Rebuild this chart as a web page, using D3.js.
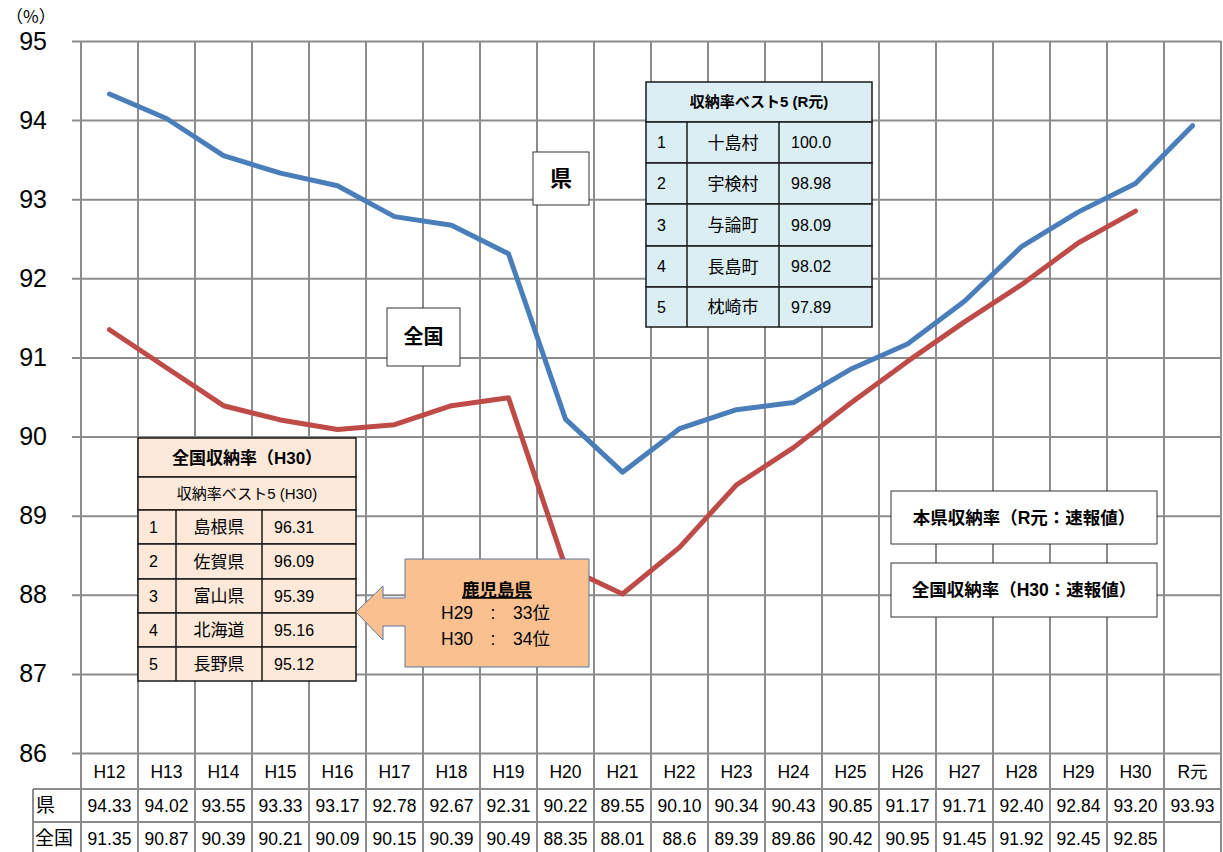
<!DOCTYPE html>
<html>
<head>
<meta charset="utf-8">
<script src="https://cdn.jsdelivr.net/npm/d3@7"></script>
<style>
body { margin: 0; background: #fff; }
svg text { font-family: "Liberation Sans", "Noto Sans CJK JP", sans-serif; fill: #000; }
</style>
</head>
<body>
<div id="chart"></div>
<script>
// 年度
var years = ["H12","H13","H14","H15","H16","H17","H18","H19","H20","H21",
    "H22","H23","H24","H25","H26","H27","H28","H29","H30","R元"];
// 県の収納率
var ken = [94.33,94.02,93.55,93.33,93.17,92.78,92.67,92.31,90.22,89.55,
    90.10,90.34,90.43,90.85,91.17,91.71,92.40,92.84,93.20,93.93];
// 全国の収納率 (R元はまだ無い)
var zenkoku = [91.35,90.87,90.39,90.21,90.09,90.15,90.39,90.49,88.35,88.01,
    88.6,89.39,89.86,90.42,90.95,91.45,91.92,92.45,92.85,null];
var zenkokuLabels = ["91.35","90.87","90.39","90.21","90.09","90.15","90.39","90.49","88.35","88.01",
    "88.6","89.39","89.86","90.42","90.95","91.45","91.92","92.45","92.85",""];
var yTicks = [86,87,88,89,90,91,92,93,94,95];

// 収納率ベスト5 (R元) 県内
var bestTown = ["十島村","宇検村","与論町","長島町","枕崎市"];
var bestTownVal = ["100.0","98.98","98.09","98.02","97.89"];
// 収納率ベスト5 (H30) 全国
var bestPref = ["島根県","佐賀県","富山県","北海道","長野県"];
var bestPrefVal = ["96.31","96.09","95.39","95.16","95.12"];

var dims = { width: 1223, height: 852, left: 81, right: 1221, top: 41, bottom: 753 };
var gridColor = "#8c8c8c";

var svg = d3.select('#chart').append('svg')
    .attr('width', dims.width)
    .attr('height', dims.height);

var x = d3.scaleBand().domain(years).range([dims.left, dims.right]).padding(0);
var y = d3.scaleLinear().domain([86, 95]).range([dims.bottom, dims.top]);
var cx = function(d){ return x(d) + x.bandwidth() / 2; };

// 横グリッド + 目盛ラベル
var yAxis = svg.append('g')
    .attr('transform', 'translate(72,0)')
    .call(d3.axisLeft(y).tickValues(yTicks).tickSize(-(dims.right - 72)).tickPadding(25));
yAxis.select('.domain').remove();
yAxis.selectAll('line').attr('stroke', gridColor).attr('stroke-width', 2);
yAxis.selectAll('text').style('font-size', '25px');

svg.append('text').attr('x', 6).attr('y', 23)
    .style('font-size', '17px')
    .style('font-family', '"Noto Sans CJK JP", sans-serif')
    .text('（%）');

// 縦グリッド (データ表まで)
svg.append('g').selectAll('line')
    .data(d3.range(years.length + 1))
    .enter().append('line')
    .attr('x1', function(i){ return dims.left + i * x.bandwidth(); })
    .attr('x2', function(i){ return dims.left + i * x.bandwidth(); })
    .attr('y1', dims.top)
    .attr('y2', dims.height)
    .attr('stroke', gridColor)
    .attr('stroke-width', 2);

// データ表の罫線
var rowY = [789, 822];
svg.append('g').selectAll('line')
    .data(rowY)
    .enter().append('line')
    .attr('x1', 33).attr('x2', dims.right)
    .attr('y1', function(d){ return d; }).attr('y2', function(d){ return d; })
    .attr('stroke', gridColor).attr('stroke-width', 2);
svg.append('line').attr('x1', 33).attr('x2', 33).attr('y1', 789).attr('y2', dims.height)
    .attr('stroke', gridColor).attr('stroke-width', 2);

// データ表の文字
var tbl = svg.append('g').attr('font-size', 17.5).attr('text-anchor', 'middle');
tbl.selectAll('.hdr').data(years).enter().append('text')
    .attr('x', cx).attr('y', 778).text(function(d){ return d; });
tbl.selectAll('.kv').data(ken).enter().append('text')
    .attr('x', function(d, i){ return cx(years[i]); }).attr('y', 812)
    .text(function(d){ return d.toFixed(2); });
tbl.selectAll('.zv').data(zenkokuLabels).enter().append('text')
    .attr('x', function(d, i){ return cx(years[i]); }).attr('y', 845)
    .text(function(d){ return d; });
svg.append('text').attr('x', 36).attr('y', 812).attr('font-size', 19).text('県');
svg.append('text').attr('x', 35).attr('y', 845).attr('font-size', 19).text('全国');

// 折れ線
var line = d3.line()
    .defined(function(d){ return d.v != null; })
    .x(function(d){ return cx(d.year); })
    .y(function(d){ return y(d.v); });

svg.append('path')
    .datum(years.map(function(yr, i){ return { year: yr, v: zenkoku[i] }; }))
    .attr('d', line)
    .attr('fill', 'none').attr('stroke', '#BE4B48').attr('stroke-width', 5)
    .attr('stroke-linejoin', 'round').attr('stroke-linecap', 'round');

svg.append('path')
    .datum(years.map(function(yr, i){ return { year: yr, v: ken[i] }; }))
    .attr('d', line)
    .attr('fill', 'none').attr('stroke', '#4A7EBB').attr('stroke-width', 5)
    .attr('stroke-linejoin', 'round').attr('stroke-linecap', 'round');

// 文字入りの枠
function labelBox(x0, y0, w, h, txt, size){
    var g = svg.append('g');
    g.append('rect').attr('x', x0).attr('y', y0).attr('width', w).attr('height', h)
        .attr('fill', '#fff').attr('stroke', '#333').attr('stroke-width', 1);
    g.append('text').attr('x', x0 + w / 2).attr('y', y0 + h / 2)
        .attr('dy', '0.36em').attr('text-anchor', 'middle')
        .attr('font-size', size).attr('font-weight', 'bold').text(txt);
}
labelBox(533, 152, 56, 53, '県', 22);
labelBox(387, 308, 73, 58, '全国', 20);
labelBox(891, 491, 266, 53, '本県収納率（R元：速報値）', 17.5);
labelBox(891, 563, 266, 54, '全国収納率（H30：速報値）', 17.5);

// ベスト5の表
function rankTable(x0, cols, rowTops, fill, names, vals, headers){
    var g = svg.append('g');
    var x1 = cols[cols.length - 1];
    for (var i = 0; i < rowTops.length - 1; i++) {
        g.append('rect').attr('x', x0).attr('y', rowTops[i])
            .attr('width', x1 - x0).attr('height', rowTops[i + 1] - rowTops[i])
            .attr('fill', fill).attr('stroke', '#1a1a1a').attr('stroke-width', 1.5);
    }
    var nh = headers.length;
    headers.forEach(function(h, i){
        g.append('text').attr('x', (x0 + x1) / 2)
            .attr('y', (rowTops[i] + rowTops[i + 1]) / 2).attr('dy', '0.36em')
            .attr('text-anchor', 'middle').attr('font-size', h.size)
            .attr('font-weight', h.bold ? 'bold' : 'normal').text(h.text);
    });
    names.forEach(function(n, i){
        var t = rowTops[nh + i], b = rowTops[nh + i + 1];
        g.append('line').attr('x1', cols[0]).attr('x2', cols[0]).attr('y1', t).attr('y2', b)
            .attr('stroke', '#1a1a1a').attr('stroke-width', 1.5);
        g.append('line').attr('x1', cols[1]).attr('x2', cols[1]).attr('y1', t).attr('y2', b)
            .attr('stroke', '#1a1a1a').attr('stroke-width', 1.5);
        var ym = (t + b) / 2;
        g.append('text').attr('x', x0 + 11).attr('y', ym).attr('dy', '0.36em')
            .attr('font-size', 16).text(i + 1);
        g.append('text').attr('x', (cols[0] + cols[1]) / 2).attr('y', ym).attr('dy', '0.36em')
            .attr('text-anchor', 'middle').attr('font-size', 17).text(n);
        g.append('text').attr('x', cols[1] + 12).attr('y', ym).attr('dy', '0.36em')
            .attr('font-size', 16).text(vals[i]);
    });
}
rankTable(646, [687, 779, 872], [82, 122, 163, 204, 246, 287, 327], '#DBEEF4',
    bestTown, bestTownVal, [{ text: '収納率ベスト5 (R元)', size: 15, bold: true }]);
rankTable(138, [176, 262, 356], [438, 477, 510, 544, 579, 613, 647, 681], '#FDE9D9',
    bestPref, bestPrefVal,
    [{ text: '全国収納率（H30）', size: 17, bold: true }, { text: '収納率ベスト5 (H30)', size: 15, bold: false }]);

// 鹿児島県の順位 (左向き矢印の吹き出し)
var callout = svg.append('g');
callout.append('path')
    .attr('d', 'M405,559 L589,559 L589,667 L405,667 L405,626 L383,626 L383,640 L356,612 L383,586 L383,598 L405,598 Z')
    .attr('fill', '#FAC090').attr('stroke', '#5A77A0').attr('stroke-width', 1);
callout.append('text').attr('x', 497).attr('y', 596).attr('text-anchor', 'middle')
    .attr('font-size', 17.5).attr('font-weight', 'bold')
    .attr('text-decoration', 'underline').text('鹿児島県');
callout.append('text').attr('x', 441).attr('y', 619).attr('font-size', 17.5).text('H29　:　33位');
callout.append('text').attr('x', 441).attr('y', 645).attr('font-size', 17.5).text('H30　:　34位');
</script>
</body>
</html>
